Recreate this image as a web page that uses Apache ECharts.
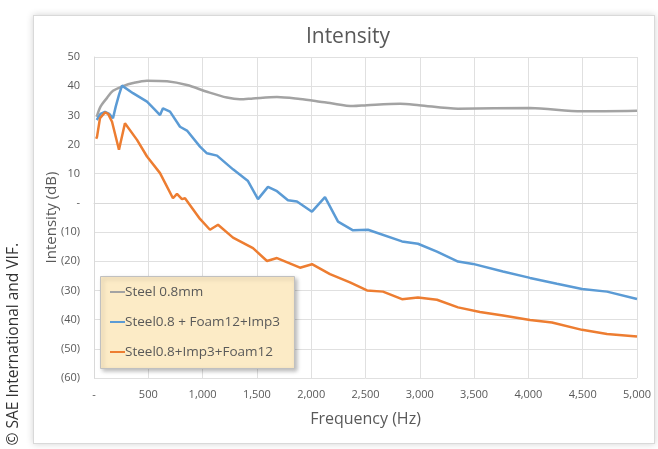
<!DOCTYPE html>
<html><head><meta charset="utf-8">
<script src="https://cdn.jsdelivr.net/npm/echarts@6/dist/echarts.min.js"></script>
<style>
html,body{margin:0;padding:0;background:#fff;}
#frame{position:absolute;left:33px;top:15px;width:620px;height:427px;border:1px solid #d9d9d9;background:#fff;box-shadow:0 0 7px rgba(0,0,0,0.18);}
#chart{position:absolute;left:0;top:0;width:658px;height:449px;}
</style></head>
<body>
<div id="frame"></div>
<div id="chart"></div>
<script>
const seriesNames = ['Steel 0.8mm', 'Steel0.8 + Foam12+Imp3', 'Steel0.8+Imp3+Foam12'];
const steel = [[25,29.5],[60,33],[120,36],[175,38.4],[267,40],[360,41.1],[488,41.9],[672,41.7],[856,40.4],[1040,38.1],[1224,36.1],[1344,35.5],[1464,35.8],[1685,36.3],[1897,35.6],[2080,34.7],[2173,34.2],[2385,33.2],[2513,33.5],[2818,34],[2993,33.5],[3352,32.3],[4015,32.5],[4494,31.4],[5000,31.6]];
const foamImp = [[25,28.4],[60,30.5],[101,31.2],[140,30.5],[175,29],[200,33],[230,37],[258,40.2],[359,37.6],[488,34.7],[560,32],[608,30.1],[635,32.4],[700,31.3],[792,26.1],[856,24.8],[976,19.3],[1040,17],[1133,16.2],[1280,11.5],[1418,7.5],[1510,1.3],[1602,5.5],[1685,4],[1786,0.9],[1869,0.5],[2007,-3],[2127,2],[2247,-6.4],[2385,-9.4],[2523,-9.2],[2836,-13.2],[2983,-14],[3158,-16.7],[3352,-20.1],[3490,-20.9],[3766,-23.5],[4015,-25.7],[4263,-27.7],[4494,-29.5],[4724,-30.4],[5000,-32.9]];
const impFoam = [[20,22],[28,22.7],[55,29],[101,31],[130,30.5],[166,27.8],[230,18.2],[246,17.6],[285,27.3],[396,21.6],[488,15.9],[608,10.2],[727,1.6],[764,3.1],[810,1.3],[838,1.6],[976,-5.5],[1068,-9.2],[1142,-7.5],[1280,-11.9],[1464,-15.5],[1593,-19.9],[1685,-18.9],[1897,-22.2],[2007,-21],[2173,-24.4],[2357,-27.2],[2514,-30],[2661,-30.4],[2836,-33],[2983,-32.4],[3158,-33.2],[3352,-35.8],[3554,-37.4],[3766,-38.6],[4015,-40.1],[4217,-41],[4494,-43.5],[4724,-44.9],[5000,-45.8]];
const colors = ['#a3a3a3', '#5b9bd5', '#ed7d31'];

function fmtY(v){ if(v===0) return '-'; if(v<0) return '(' + Math.abs(v) + ')'; return String(v); }
function fmtX(v){ if(v===0) return '-'; return v.toLocaleString('en-US'); }

const chart = echarts.init(document.getElementById('chart'), null, {renderer:'canvas'});
const txt = '#595959';
chart.setOption({
  backgroundColor: 'transparent',
  animation: false,
  title: { text: 'Intensity', left: 343, textAlign: 'center', top: 22,
    textStyle: { fontFamily: 'Open Sans', fontSize: 21, fontWeight: 'normal', color: txt } },
  graphic: [
    { type: 'rect', left: 100, top: 276, z: 5, shape: { width: 194, height: 92 },
      style: { fill: '#fcebc6', stroke: '#c0c0c0', lineWidth: 1, shadowBlur: 4, shadowOffsetX: 2, shadowOffsetY: 2, shadowColor: 'rgba(0,0,0,0.25)' } },
    { type: 'text', left: 6, top: 243, rotation: Math.PI/2, z: 5,
      style: { text: '© SAE International and VIF.', fontFamily: 'Open Sans', fontSize: 15.5, fill: '#333' } }
  ],
  legend: {
    orient: 'vertical', left: 110, top: 284, z: 10, itemGap: 14, padding: 0,
    itemWidth: 15, itemHeight: 2, icon: 'rect',
    textStyle: { fontFamily: 'Open Sans', fontSize: 13.5, lineHeight: 16, color: txt, padding: [0,0,0,-5] },
    data: seriesNames
  },
  grid: { left: 94, right: 21, top: 57, bottom: 71, containLabel: false },
  xAxis: {
    type: 'value', min: 0, max: 5000, interval: 500,
    name: 'Frequency (Hz)', nameLocation: 'middle', nameGap: 33,
    nameTextStyle: { fontFamily: 'Open Sans', fontSize: 16, color: txt },
    axisLine: { show: true, lineStyle: { color: '#d9d9d9' } },
    axisTick: { show: false },
    axisLabel: { formatter: fmtX, color: txt, fontFamily: 'Open Sans', fontSize: 11, margin: 11 },
    splitLine: { show: true, lineStyle: { color: '#e0e0e0' } }
  },
  yAxis: {
    type: 'value', min: -60, max: 50, interval: 10,
    name: 'Intensity (dB)', nameLocation: 'middle', nameGap: 35, nameMoveOverlap: false,
    nameTextStyle: { fontFamily: 'Open Sans', fontSize: 15, color: txt },
    axisLine: { show: true, lineStyle: { color: '#d9d9d9' } },
    axisTick: { show: false },
    axisLabel: { formatter: fmtY, color: txt, fontFamily: 'Open Sans', fontSize: 11, margin: 14 },
    splitLine: { show: true, lineStyle: { color: '#e0e0e0' } }
  },
  series: [
    { name: seriesNames[0], type: 'line', data: steel, showSymbol: false, smooth: 0.3, lineStyle: { width: 2.5, color: colors[0] }, itemStyle: { color: colors[0] } },
    { name: seriesNames[1], type: 'line', data: foamImp, showSymbol: false, lineStyle: { width: 2.5, color: colors[1] }, itemStyle: { color: colors[1] } },
    { name: seriesNames[2], type: 'line', data: impFoam, showSymbol: false, lineStyle: { width: 2.5, color: colors[2] }, itemStyle: { color: colors[2] } }
  ]
});
</script>
</body></html>
